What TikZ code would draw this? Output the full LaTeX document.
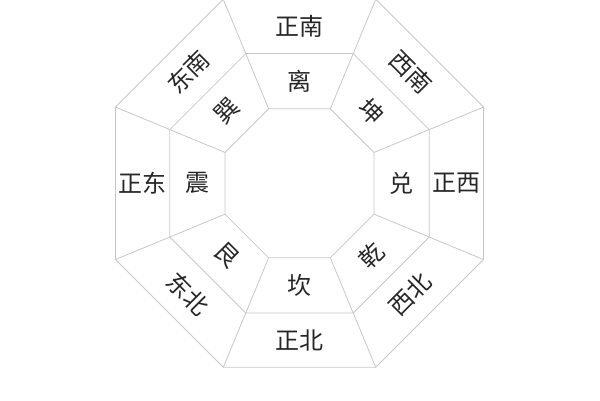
\documentclass[tikz,border=0pt]{standalone}
\usepackage{fontspec}
\newfontfamily\cjk{Noto Sans CJK SC}
\begin{document}
\begin{tikzpicture}[x=1pt,y=1pt,
  edge/.style={draw=black!22, line width=0.8pt, line join=miter},
  lab/.style={font=\cjk\fontsize{24}{24}\selectfont, text=black!85, inner sep=0pt, anchor=center}]
\useasboundingbox (-299.5,-216.7) rectangle (300.5,183.3);
\clip (-299.5,-216.7) rectangle (300.5,183.3);
\foreach \k in {0,...,7}{
  \pgfmathsetmacro\ang{22.5+45*\k}
  \coordinate (o\k) at (\ang:199.2);
  \coordinate (m\k) at (\ang:140.4);
  \coordinate (i\k) at (\ang:80.6);
}
\draw[edge] (o0)--(o1)--(o2)--(o3)--(o4)--(o5)--(o6)--(o7)--cycle;
\draw[edge] (m0)--(m1)--(m2)--(m3)--(m4)--(m5)--(m6)--(m7)--cycle;
\draw[edge] (i0)--(i1)--(i2)--(i3)--(i4)--(i5)--(i6)--(i7)--cycle;
\foreach \k in {0,...,7}{
  \draw[edge] (i\k)--(m\k)--(o\k);
}
% outer ring
\node[lab] (zn) at (90:157) {正南};
\node[lab, rotate=-45] (xn) at (45:157) {西南};
\node[lab] (zx) at (0:157) {正西};
\node[lab, rotate=45] (xb) at (-45:157) {西北};
\node[lab] (zb) at (-90:157) {正北};
\node[lab, rotate=-45] (db) at (-135:157) {东北};
\node[lab] (zd) at (180:157) {正东};
\node[lab, rotate=45] (dn) at (135:157) {东南};
% inner ring
\node[lab] (li) at (90:102) {离};
\node[lab, rotate=-45] (kun) at (45:102) {坤};
\node[lab] (dui) at (0:102) {兑};
\node[lab, rotate=45] (qian) at (-45:102) {乾};
\node[lab] (kan) at (-90:102) {坎};
\node[lab, rotate=-45] (gen) at (-135:102) {艮};
\node[lab] (zhen) at (180:102) {震};
\node[lab, rotate=45] (xun) at (135:102) {巽};
\end{tikzpicture}
\end{document}
